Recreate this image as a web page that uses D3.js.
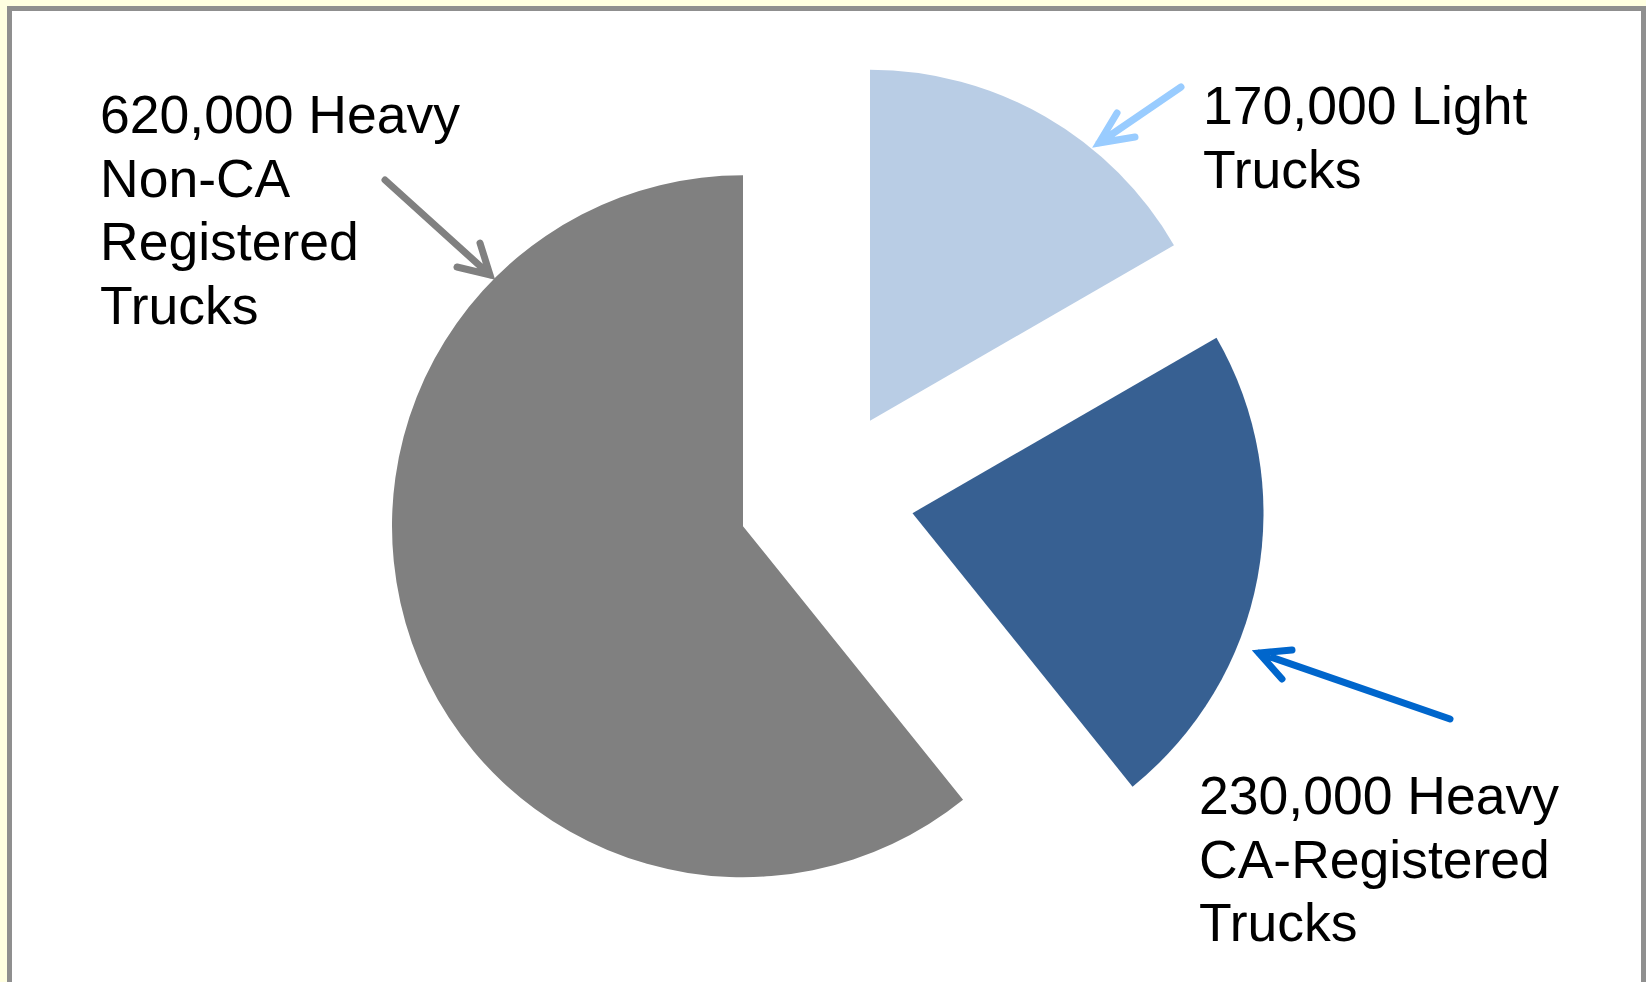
<!DOCTYPE html>
<html>
<head>
<meta charset="utf-8">
<script src="https://cdn.jsdelivr.net/npm/d3@7"></script>
<style>
  html, body { margin: 0; padding: 0; background: #ffffe1; }
  svg { display: block; }
</style>
</head>
<body>
<div id="chart"></div>
<script>
/* Exploded pie of truck counts */

const categories = ["Light Trucks", "Heavy CA-Registered Trucks", "Heavy Non-CA Registered Trucks"];
const values = [170000, 230000, 620000];
const colors = ["#b9cde5", "#376092", "#808080"];

const labelLines = [
    ["170,000 Light", "Trucks"],
    ["230,000 Heavy", "CA-Registered", "Trucks"],
    ["620,000 Heavy", "Non-CA", "Registered", "Trucks"]
];

const width = 1646,
      height = 982,
      cx = 826, cy = 497,
      radius = 351,
      explode = 88;

const data = categories.map((c, i) => ({name: c, value: values[i], color: colors[i], lines: labelLines[i]}));

let svg = d3.select("#chart")
    .append("svg")
    .attr("width", width)
    .attr("height", height);

// frame
svg.append("rect")
    .attr("x", 9.5)
    .attr("y", 8.5)
    .attr("width", 1634)
    .attr("height", 1000)
    .attr("fill", "#fff")
    .attr("stroke", "#8f8f8f")
    .attr("stroke-width", 5);

let pie = d3.pie()
    .sort(null)
    .value(d => d.value);

let arc = d3.arc()
    .innerRadius(0)
    .outerRadius(radius);

svg.append("g")
    .attr("transform", `translate(${cx},${cy})`)
    .selectAll("path")
    .data(pie(data))
    .join("path")
    .attr("fill", d => d.data.color)
    .attr("d", arc)
    .attr("transform", d => {
        let mid = (d.startAngle + d.endAngle) / 2;  // push each slice out along its bisector
        return `translate(${Math.sin(mid) * explode},${-Math.cos(mid) * explode})`;
    });

// labels: [x, first baseline]
const labelPos = [[1203, 124], [1199, 814], [100, 133]];
const lineGap = 63.5;

data.forEach((d, i) => {
    let t = svg.append("text")
        .attr("font-family", "'Liberation Sans', Arial, sans-serif")
        .attr("font-size", 53.5)
        .attr("fill", "#000");
    d.lines.forEach((l, j) => {
        t.append("tspan")
            .attr("x", labelPos[i][0])
            .attr("y", labelPos[i][1] + j * lineGap)
            .text(l);
    });
});

// arrows: from, tip, two wing ends
const arrows = [
    {from: [1181, 87], tip: [1099, 143], w1: [1117, 113], w2: [1135, 137], color: "#99ccff"},
    {from: [1450, 719], tip: [1259, 653], w1: [1292, 650], w2: [1282, 679], color: "#0066cc"},
    {from: [385, 180], tip: [490, 275], w1: [480, 243], w2: [457, 267], color: "#808080"}
];

arrows.forEach(a => {
    let p = d3.path();
    p.moveTo(...a.from);
    p.lineTo(...a.tip);
    p.moveTo(...a.w1);
    p.lineTo(...a.tip);
    p.lineTo(...a.w2);
    svg.append("path")
        .attr("d", p.toString())
        .attr("fill", "none")
        .attr("stroke", a.color)
        .attr("stroke-width", 7)
        .attr("stroke-linecap", "round")
        .attr("stroke-linejoin", "miter");
});
</script>
</body>
</html>
